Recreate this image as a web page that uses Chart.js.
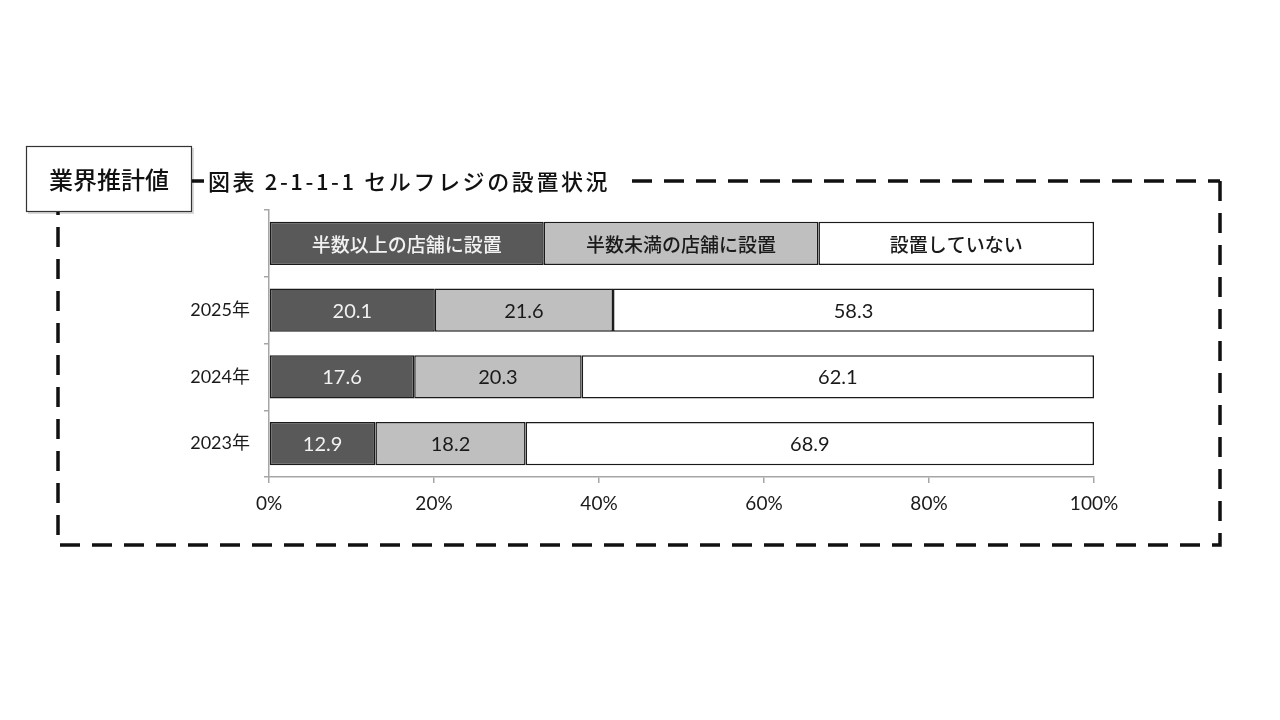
<!DOCTYPE html>
<html>
<head>
<meta charset="utf-8">
<script src="https://cdn.jsdelivr.net/npm/chart.js@4.4.1/dist/chart.umd.min.js"></script>
<style>
  html, body { margin: 0; padding: 0; background: #ffffff; }
  #wrap { position: relative; width: 1280px; height: 720px; }
  canvas { display: block; }
</style>
</head>
<body>
<div id="wrap"><canvas id="c" width="1280" height="720"></canvas></div>
<script>
// ---- data ----
const categories = ['2025年', '2024年', '2023年'];
const seriesNames = ['半数以上の店舗に設置', '半数未満の店舗に設置', '設置していない'];
const halfOrMore = [20.1, 17.6, 12.9];
const lessThanHalf = [21.6, 20.3, 18.2];
const notInstalled = [58.3, 62.1, 68.9];
const legendShares = [33.3, 33.3, 33.4];
const xTicks = [0, 20, 40, 60, 80, 100];
const titleText = '図表 2-1-1-1 セルフレジの設置状況';
const badgeText = '業界推計値';

const seriesColors = ['#595959', '#bfbfbf', '#ffffff'];
const labelColors = ['#f2f2f2', '#1a1a1a', '#1a1a1a'];
const seriesValues = [halfOrMore, lessThanHalf, notInstalled];

const numFont = 'Lato, "Noto Sans CJK JP", sans-serif';
const jpFont = '"Noto Sans CJK JP", sans-serif';

const labels = [''].concat(categories);
const datasets = seriesNames.map((name, i) => ({
  label: name,
  data: [legendShares[i]].concat(seriesValues[i]),
  backgroundColor: seriesColors[i],
  borderColor: '#1a1a1a',
  borderWidth: 1.5,
  borderSkipped: false,
  barPercentage: 0.8,
  categoryPercentage: 0.81
}));

const barLabels = {
  id: 'barLabels',
  afterDatasetsDraw(chart) {
    const ctx = chart.ctx;
    ctx.save();
    ctx.textAlign = 'center';
    ctx.textBaseline = 'middle';
    chart.data.datasets.forEach((ds, di) => {
      const meta = chart.getDatasetMeta(di);
      meta.data.forEach((el, idx) => {
        const cx = (el.x + el.base) / 2;
        ctx.fillStyle = labelColors[di];
        if (idx === 0) {
          ctx.font = '500 19px ' + jpFont;
          ctx.fillText(ds.label, cx, el.y + 1);
        } else {
          ctx.font = '20px ' + numFont;
          ctx.fillText(ds.data[idx].toFixed(1), cx, el.y + 1);
        }
      });
    });
    ctx.restore();
  }
};

const frame = {
  id: 'frame',
  afterDraw(chart) {
    const ctx = chart.ctx;
    ctx.save();
    // dashed frame
    ctx.strokeStyle = '#111';
    ctx.lineWidth = 3.5;
    ctx.setLineDash([20, 12]);
    ctx.beginPath();
    ctx.moveTo(1220, 181);
    ctx.lineTo(1220, 545);
    ctx.lineTo(58, 545);
    ctx.lineTo(58, 181);
    ctx.lineTo(1220, 181);
    ctx.stroke();
    ctx.setLineDash([]);
    // title background + text
    ctx.fillStyle = '#fff';
    ctx.fillRect(204, 166, 420, 32);
    ctx.fillStyle = '#111';
    ctx.font = '500 22px ' + jpFont;
    ctx.textAlign = 'left';
    ctx.textBaseline = 'middle';
    ctx.letterSpacing = '2.6px';
    ctx.fillText(titleText, 208, 182);
    ctx.letterSpacing = '0px';
    // badge box
    ctx.fillStyle = 'rgba(0,0,0,0.15)';
    ctx.fillRect(28, 148, 166, 66);
    ctx.fillStyle = '#fff';
    ctx.fillRect(26, 146, 166, 66);
    ctx.strokeStyle = '#333';
    ctx.lineWidth = 1.2;
    ctx.strokeRect(26.5, 146.5, 165, 65);
    ctx.fillStyle = '#111';
    ctx.textAlign = 'center';
    ctx.font = '500 24px ' + jpFont;
    ctx.fillText(badgeText, 109, 180);
    ctx.restore();
  }
};

new Chart(document.getElementById('c'), {
  type: 'bar',
  data: { labels: labels, datasets: datasets },
  options: {
    indexAxis: 'y',
    responsive: false,
    animation: false,
    layout: { padding: { top: 210, right: 186, bottom: 200, left: 0 } },
    plugins: { legend: { display: false }, tooltip: { enabled: false } },
    scales: {
      x: {
        stacked: true,
        min: 0,
        max: 100,
        afterBuildTicks(scale) { scale.ticks = xTicks.map(v => ({ value: v })); },
        afterFit(scale) { scale.height = 43; },
        border: { color: '#a6a6a6', width: 1.5 },
        grid: { drawOnChartArea: false, drawTicks: true, tickLength: 6, color: '#a6a6a6', lineWidth: 1.5 },
        ticks: {
          color: '#1a1a1a',
          font: { family: numFont, size: 19 },
          padding: 9,
          callback: (v) => v + '%'
        }
      },
      y: {
        stacked: true,
        afterFit(scale) { scale.width = 269; },
        border: { color: '#a6a6a6', width: 1.5 },
        grid: { drawOnChartArea: false, drawTicks: true, tickLength: 5, color: '#a6a6a6', lineWidth: 1.5, offset: true },
        ticks: {
          color: '#1a1a1a',
          font: { family: numFont, size: 18 },
          padding: 14
        }
      }
    }
  },
  plugins: [barLabels, frame]
});
</script>
</body>
</html>
